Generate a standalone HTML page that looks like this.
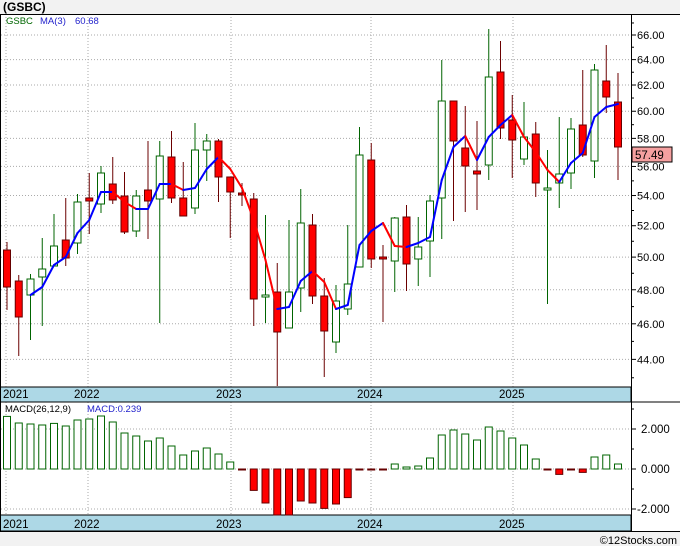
<!DOCTYPE html>
<html><head><meta charset="utf-8"><style>
body{margin:0;background:#f2f2f2;width:680px;height:546px;overflow:hidden;font-family:"Liberation Sans",sans-serif}
svg{display:block}
</style></head><body>
<svg id="s" width="680" height="546" xmlns="http://www.w3.org/2000/svg"></svg>
<script>
const S=document.getElementById('s');let h='';
function y(p){return 35+(Math.log(66)-Math.log(p))*800;}
// background
h+='<rect x="0" y="0" width="680" height="546" fill="#f2f2f2"/>';
h+='<rect x="0" y="14" width="680" height="517" fill="#fff"/>';
h+='<text x="3" y="11" font-size="12" font-weight="bold" fill="#000">(GSBC)</text>';
// grids main
const yrs=[6,88,231,371,513];
for(let p=44;p<=66;p+=2){const yy=y(p).toFixed(1);h+=`<line x1="1" x2="631" y1="${yy}" y2="${yy}" stroke="#aaa" stroke-dasharray="1,2"/>`;h+=`<text x="637" y="${(+yy+4).toFixed(1)}" font-size="11" fill="#000">${p.toFixed(2)}</text>`;}
for(let p=43;p<=67;p++){const yy=y(p);if(yy>15&&yy<386)h+=`<line x1="631" x2="${p%2?634:636}" y1="${yy}" y2="${yy}" stroke="#000"/>`;}
yrs.forEach(x=>{h+=`<line x1="${x}" x2="${x}" y1="14" y2="387" stroke="#aaa" stroke-dasharray="1,2"/><line x1="${x}" x2="${x}" y1="402" y2="515" stroke="#aaa" stroke-dasharray="1,2"/>`;});
// candles: hi, lo, bodyTop, bodyBot, color(r/g)
const C=[[242,310,250,287,'r'],[275,356,281,317,'r'],[274,340,279,295,'g'],[238,326,269,277,'g'],[214,266,246,266,'g'],[198,266,240,258,'r'],[194,254,202,243,'g'],[173,234,198,201,'r'],[166,213,173,204,'g'],[157,204,184,200,'r'],[172,234,196,232,'r'],[190,237,196,231,'g'],[141,239,190,201,'r'],[141,323,156,199,'g'],[131,203,157,198,'r'],[162,216,198,216,'r'],[123,214,150,208,'g'],[134,181,141,150,'g'],[139,202,141,177,'r'],[177,238,177,192,'r'],[183,206,193,195,'r'],[193,326,199,299,'r'],[215,323,295,297,'g'],[263,387,292,332,'r'],[220,328,292,328,'g'],[189,312,223,288,'g'],[214,304,225,296,'r'],[278,377,296,331,'r'],[285,353,301,342,'g'],[225,315,284,309,'g'],[127,267,155,267,'g'],[143,268,160,259,'r'],[245,322,257,258,'r'],[217,292,218,261,'g'],[205,291,217,264,'r'],[217,286,247,259,'g'],[195,277,201,241,'g'],[60,239,101,198,'g'],[101,221,101,141,'r'],[106,212,148,166,'r'],[121,210,171,174,'r'],[29,180,77,165,'g'],[41,139,72,128,'r'],[95,178,120,140,'r'],[102,165,137,159,'g'],[122,197,134,183,'r'],[150,304,188,189,'g'],[117,208,174,183,'g'],[118,189,129,173,'g'],[70,157,125,155,'r'],[64,178,70,161,'g'],[45,113,81,97,'r'],[73,180,102,147,'r']];
const X=i=>7+11.75*i;
C.forEach((c,i)=>{const x=X(i);const red=c[4]=='r';const wc=red?'#6b0000':'#006400';
h+=`<line x1="${x}" x2="${x}" y1="${c[0]}" y2="${Math.min(c[1],386)}" stroke="${wc}"/>`;
const bh=Math.max(c[3]-c[2],2);
h+=`<rect x="${x-3.5}" y="${c[2]}" width="7" height="${bh}" fill="${red?'#f00':'#fff'}" stroke="${red?'#600':'#006400'}"/>`;});
// MA
const M=[273,287,295,287,265,257,233,220,192,192,202,209,209,184,184,190,188,169,157,169,188,220,260,309,307,281,271,282,309,305,245,231,223,246,247,243,237,180,147,136,160,137,125,115,137,152,170,182,163,153,117,107,104];
for(let i=2;i<M.length-1;i++){const c=M[i+1]>M[i]?'#f00':'#00f';h+=`<line x1="${X(i)}" y1="${M[i]}" x2="${X(i+1)}" y2="${M[i+1]}" stroke="${c}" stroke-width="2" stroke-linecap="round"/>`;}
// legend
h+='<text x="6" y="24" font-size="9.5" fill="#060">GSBC</text><text x="40" y="24" font-size="9.5" fill="#22c">MA(3)</text><text x="75" y="24" font-size="9.5" fill="#22c">60.68</text>';
// price tag
h+='<rect x="632" y="147" width="40" height="15" fill="#f5a0a0" stroke="#000"/><text x="635" y="159" font-size="11.5">57.49</text>';
// axes bands
h+='<rect x="0" y="387" width="631" height="15" fill="#add8e6" stroke="#000"/>';
h+='<rect x="0" y="515" width="631" height="16" fill="#add8e6" stroke="#000"/>';
[['2021',3],['2022',74],['2023',216],['2024',357],['2025',499]].forEach(a=>{h+=`<text x="${a[1]}" y="398" font-size="11.5">${a[0]}</text><text x="${a[1]}" y="528" font-size="11.5">${a[0]}</text>`;});
// MACD grid
[[429,'2.000'],[469,'0.000'],[509,'-2.000']].forEach(a=>{h+=`<line x1="1" x2="631" y1="${a[0]}" y2="${a[0]}" stroke="#aaa" stroke-dasharray="1,2"/><line x1="631" x2="636" y1="${a[0]}" y2="${a[0]}" stroke="#000"/><text x="${a[1][0]=='-'?637:641}" y="${a[0]+4}" font-size="11.5">${a[1]}</text>`;});
[409,449,489].forEach(v=>h+=`<line x1="631" x2="634" y1="${v}" y2="${v}" stroke="#000"/>`);
const D=[2.63,2.3,2.25,2.2,2.28,2.15,2.45,2.5,2.65,2.35,1.8,1.65,1.4,1.55,1.15,0.7,0.9,1.05,0.75,0.35,-0.02,-1.07,-1.7,-2.3,-2.3,-1.6,-1.7,-1.97,-1.75,-1.43,-0.05,-0.05,-0.05,0.25,0.1,0.15,0.55,1.7,1.95,1.75,1.45,2.1,1.9,1.55,1.2,0.5,-0.02,-0.27,-0.02,-0.17,0.6,0.7,0.25];
D.forEach((d,i)=>{const x=X(i);let t,b;if(d>=0){t=469-d*20;b=469;}else{t=469;b=Math.min(469-d*20,515);}
const bh=Math.max(b-t,1);h+=`<rect x="${x-3.5}" y="${t}" width="7" height="${bh}" fill="${d>=0?'#fff':'#f00'}" stroke="${d>=0?'#006400':'#600'}"/>`;});
h+='<text x="5" y="412" font-size="9.5" fill="#000">MACD(26,12,9)</text><text x="87" y="412" font-size="9.5" fill="#22c">MACD:0.239</text>';
// frame
h+='<line x1="0.5" y1="14" x2="0.5" y2="531" stroke="#000"/><line x1="0" y1="14.5" x2="680" y2="14.5" stroke="#000"/><line x1="631.5" y1="14" x2="631.5" y2="531" stroke="#000"/><line x1="0" y1="531.5" x2="680" y2="531.5" stroke="#000"/><line x1="0" y1="402" x2="680" y2="402" stroke="#000"/>';
h+='<rect x="0" y="532" width="680" height="14" fill="#f2f2f2"/><text x="677" y="544" font-size="11" text-anchor="end">©12Stocks.com</text>';
S.innerHTML=h;
</script>
</body></html>
